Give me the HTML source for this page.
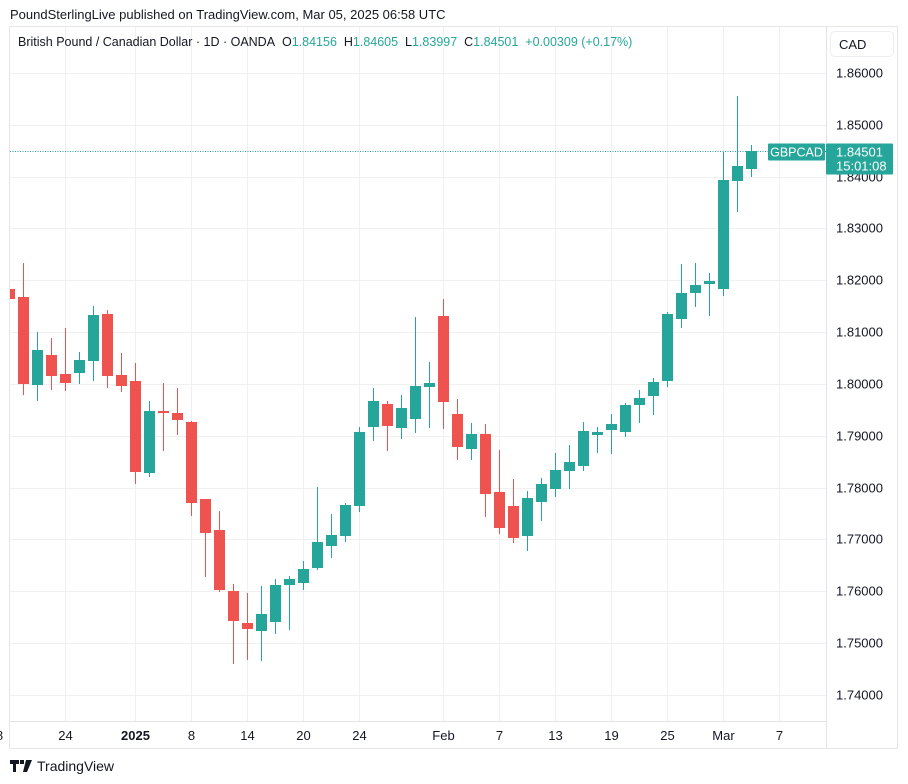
<!DOCTYPE html>
<html><head><meta charset="utf-8">
<style>
html,body{margin:0;padding:0;background:#fff;width:908px;height:784px;overflow:hidden;font-family:"Liberation Sans",sans-serif;}
.hdr{position:absolute;left:10px;top:7px;font-size:13px;color:#131722;}
.legend{position:absolute;left:18px;top:35px;font-size:12.5px;color:#131722;white-space:nowrap;}
.legend .v{color:#26a69a;}
.brand{position:absolute;left:10px;top:758px;font-size:14px;color:#131722;display:flex;align-items:center;gap:5px;}
</style></head><body>
<div class="hdr">PoundSterlingLive published on TradingView.com, Mar 05, 2025 06:58 UTC</div>
<svg id="chart" width="908" height="784" style="position:absolute;left:0;top:0">
  <rect x="9.5" y="26.5" width="888" height="722" fill="none" stroke="#e6e6e6"/>
  <g id="grid"></g>
  <g id="candles"></g>
  <g id="axes"></g>
</svg>
<div class="legend">British Pound / Canadian Dollar · 1D · OANDA&nbsp;&nbsp;O<span class="v">1.84156</span>&nbsp;&nbsp;H<span class="v">1.84605</span>&nbsp;&nbsp;L<span class="v">1.83997</span>&nbsp;&nbsp;C<span class="v">1.84501</span>&nbsp;&nbsp;<span class="v">+0.00309 (+0.17%)</span></div>
<div class="brand"><svg width="22" height="12" viewBox="0 0 22 12"><path d="M0 0h9v4H6v8H3V4H0z M10 0h4v4h-4z M16 0h6l-5 12h-4z" fill="#131722"/></svg><span>TradingView</span></div>
<script>
const dates = ["D18","D19","D20","D23","D24","D26","D27","D30","D31","J1","J2","J3","J6","J7","J8","J9","J10","J13","J14","J15","J16","J17","J20","J21","J22","J23","J24","J27","J28","J29","J30","J31","F3","F4","F5","F6","F7","F10","F11","F12","F13","F14","F17","F18","F19","F20","F21","F24","F25","F26","F27","F28","M3","M4"];
const opens  = [1.8183,1.81678,1.79986,1.80559,1.80193,1.80218,1.80449,1.8135,1.80173,1.80058,1.78288,1.79479,1.7944,1.79266,1.77781,1.77183,1.76006,1.75388,1.7524,1.75413,1.76127,1.7616,1.7645,1.7688,1.77073,1.77652,1.79176,1.79614,1.79157,1.7933,1.79948,1.81312,1.79421,1.78751,1.79035,1.77916,1.77646,1.77073,1.77729,1.7798,1.78327,1.78423,1.79021,1.79118,1.79079,1.796,1.79774,1.80063,1.81259,1.81761,1.81935,1.81838,1.83922,1.84156];
const highs  = [1.8190,1.82334,1.81003,1.80887,1.8108,1.80617,1.81505,1.81427,1.80598,1.80405,1.79672,1.80019,1.79922,1.79286,1.77781,1.77549,1.76141,1.75967,1.76102,1.76237,1.76295,1.7658,1.78012,1.77491,1.77704,1.7917,1.79922,1.79672,1.79787,1.81292,1.80425,1.8164,1.7971,1.79247,1.79228,1.78726,1.78167,1.77935,1.78186,1.78668,1.78823,1.79267,1.7917,1.79421,1.79633,1.79884,1.80115,1.81389,1.82315,1.82334,1.82141,1.84476,1.85556,1.84605];
const lows   = [1.8160,1.79787,1.79677,1.79889,1.7987,1.80005,1.80063,1.79928,1.79851,1.78076,1.78211,1.78713,1.79022,1.77459,1.76282,1.75992,1.74603,1.7468,1.74661,1.75182,1.75259,1.7602,1.76411,1.76642,1.76957,1.77536,1.78906,1.78713,1.78944,1.7906,1.79157,1.79137,1.78539,1.78539,1.7744,1.77111,1.76938,1.76783,1.77362,1.77825,1.7798,1.78327,1.78674,1.78655,1.78983,1.79253,1.79407,1.79948,1.81086,1.81491,1.81317,1.81703,1.83324,1.83997];
const closes = [1.8164,1.80005,1.80656,1.8016,1.80025,1.80463,1.81331,1.8016,1.79967,1.78308,1.79479,1.79446,1.79311,1.7771,1.7713,1.76031,1.75433,1.75278,1.75562,1.76122,1.76237,1.7643,1.76951,1.77086,1.77665,1.79074,1.79672,1.79195,1.79537,1.79961,1.80019,1.79658,1.7879,1.79035,1.77883,1.77227,1.77034,1.778,1.7807,1.7834,1.78495,1.79093,1.79074,1.79228,1.79595,1.7973,1.80038,1.8135,1.81755,1.8191,1.81987,1.83936,1.84206,1.84501];
const priceTicks = [1.86,1.85,1.84,1.83,1.82,1.81,1.80,1.79,1.78,1.77,1.76,1.75,1.74];
const timeLabels = ["8","24","2025","8","14","20","24","Feb","7","13","19","25","Mar","7"];
const timeLabelIdx = [-0.7,4,9,13,17,21,25,31,35,39,43,47,51,55];
const lastPrice = 1.84501;

const NS="http://www.w3.org/2000/svg";
const PL=10, PR=826, PT=27, PB=721;
const yS = v => 73 + (1.86 - v) * 5183;
const xS = i => 9 + 14 * i;
function mk(tag, attrs, parent){const e=document.createElementNS(NS,tag);for(const k in attrs)e.setAttribute(k,attrs[k]);parent.appendChild(e);return e;}
const grid=document.getElementById('grid'), cg=document.getElementById('candles'), ax=document.getElementById('axes');
const defs=mk('defs',{},document.getElementById('chart'));
const cp=mk('clipPath',{id:'plotclip'},defs);
mk('rect',{x:PL,y:PT,width:PR-PL,height:PB-PT},cp);
cg.setAttribute('clip-path','url(#plotclip)');

priceTicks.forEach(p=>{
  const y=Math.round(yS(p))+0.5;
  const l=mk('line',{x1:PL,x2:PR,y1:y,y2:y,stroke:'#f0f0f0'},grid);
  
  
  const t=mk('text',{x:836,y:y+4,'font-size':13,fill:'#131722'},ax);
  t.textContent=p.toFixed(5);
  
  
});
timeLabels.forEach((s,k)=>{
  const x=Math.round(xS(timeLabelIdx[k]))+0.5;
  if(x>PL+2){
    const l=mk('line',{x1:x,x2:x,y1:PT,y2:PB,stroke:'#f0f0f0'},grid);
    
    
  }
  const t=mk('text',{x:x,y:740,'font-size':13,fill:'#131722','text-anchor':'middle','font-weight':s==='2025'?'bold':'normal'},ax);
  t.textContent=s;
  
  
});
mk('line',{x1:PR+0.5,x2:PR+0.5,y1:PT,y2:748,stroke:'#e0e3eb'},ax);
mk('line',{x1:PL,x2:PR,y1:PB+0.5,y2:PB+0.5,stroke:'#e0e3eb'},ax);

opens.forEach((o,i)=>{
  const c=closes[i], up=c>=o, col=up?'#26a69a':'#ef5350', x=Math.round(xS(i));
  const g=mk('g',{},cg);
  
  
  mk('line',{x1:x+0.5,x2:x+0.5,y1:Math.round(yS(highs[i])),y2:Math.round(yS(lows[i])),stroke:col,'stroke-width':1},g);
  const top=Math.round(yS(Math.max(o,c))), bot=Math.round(yS(Math.min(o,c)));
  mk('rect',{x:x-5,y:top,width:11,height:Math.max(2,bot-top),fill:col},g);
});

const ly=Math.round(yS(lastPrice))+0.5;
const pl=mk('line',{x1:PL,x2:PR,y1:ly,y2:ly,stroke:'#26a69a','stroke-dasharray':'1 1.5'},ax);


const sym=mk('g',{},ax);


mk('rect',{x:768,y:ly-8,width:57,height:17,fill:'#26a69a',rx:1},sym);
const st=mk('text',{x:796.5,y:ly+5,'font-size':12.5,fill:'#fff','text-anchor':'middle'},sym);st.textContent='GBPCAD';
const pb=mk('g',{},ax);


mk('rect',{x:826,y:ly-8,width:67,height:31,fill:'#26a69a',rx:1},pb);
const t1=mk('text',{x:836,y:ly+5,'font-size':13,fill:'#fff'},pb);t1.textContent=lastPrice.toFixed(5);
const t2=mk('text',{x:836,y:ly+19,'font-size':13,fill:'#fff'},pb);t2.textContent='15:01:08';
const cb=mk('g',{},ax);


mk('rect',{x:830.5,y:31.5,width:63,height:25,rx:4,fill:'#fff',stroke:'#eceef2'},cb);
const ct=mk('text',{x:839,y:49,'font-size':13,fill:'#131722'},cb);ct.textContent='CAD';
</script>
</body></html>
